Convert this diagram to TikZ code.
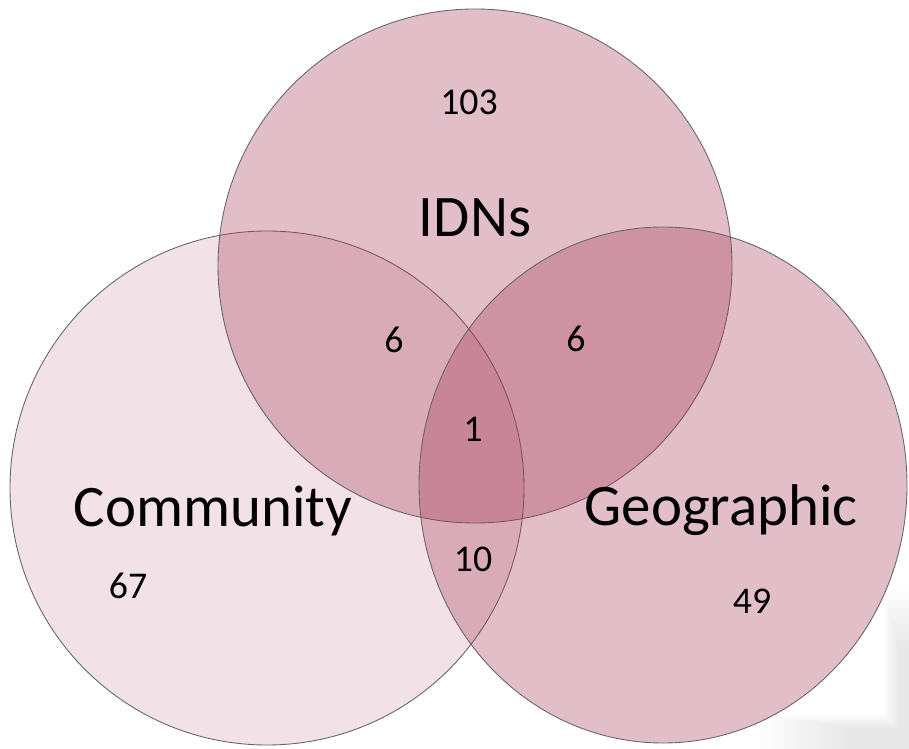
\documentclass[tikz,border=0pt]{standalone}
\usepackage{fontspec}
\setmainfont{Carlito}
\definecolor{vennpink}{RGB}{165,55,85}
\tikzset{
    set/.style = {
        draw = black!60,
        line width = 0.5pt,
        fill = vennpink,
        },
    light set/.style = {
        set,
        fill opacity = 0.15,
        },
    dark set/.style = {
        set,
        fill opacity = 0.32,
        },
    set name/.style = {
        anchor = base,
        font = \fontsize{33.5}{40}\selectfont,
        },
    count/.style = {
        anchor = base,
        font = \fontsize{21.5}{26}\selectfont,
        },
}

\begin{document}
\begin{tikzpicture}[x=0.02cm, y=-0.02cm]
    \useasboundingbox (0,0) rectangle (909,749);
    \foreach \i in {0,...,7}
        \fill[black, opacity=0.01, even odd rule]
            (760+12*\i,590+8*\i) rectangle (915,760)
            (760+12*\i,590+8*\i) rectangle (884+2*\i,714+2*\i);

    \path[light set] (267,488) circle[radius=257];
    \path[dark set] (475,266) circle[radius=257];
    \path[dark set] (663,485) ellipse[x radius=244, y radius=258];

    \node[set name] (idns) at (475,237) {IDNs};
    \node[set name] (community) at (213,526) {Community};
    \node[set name] (geographic) at (721,525) {Geographic};

    \node[count] (only idns) at (469,115) {103};
    \node[count] (idns community) at (394,353) {6};
    \node[count] (idns geographic) at (576,352) {6};
    \node[count] (all) at (473,441) {1};
    \node[count] (community geographic) at (473,571) {10};
    \node[count] (only community) at (128,598) {67};
    \node[count] (only geographic) at (752,613) {49};
\end{tikzpicture}
\end{document}
